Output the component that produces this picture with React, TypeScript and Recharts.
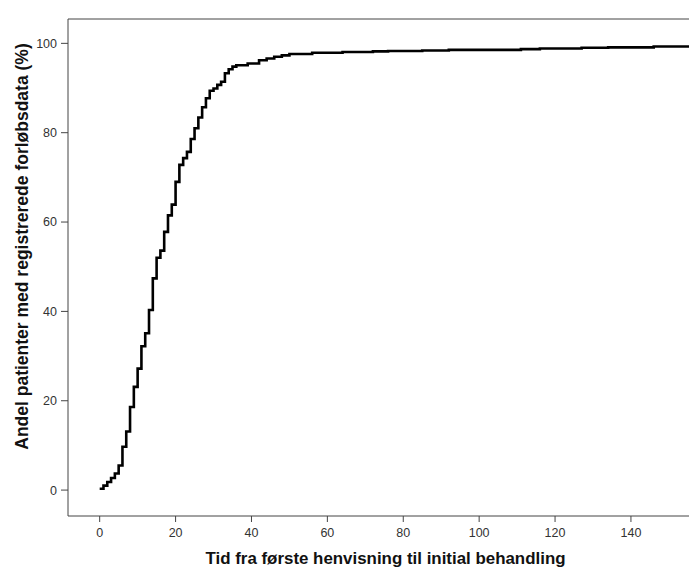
import { LineChart, Line, XAxis, YAxis, ReferenceLine } from 'recharts';

// days from first referral and cumulative share of patients (%)
const days = [
  0, 1, 2, 3, 4, 5, 6, 7, 8, 9, 10, 11, 12, 13, 14, 15, 16, 17, 18, 19,
  20, 21, 22, 23, 24, 25, 26, 27, 28, 29, 30, 31, 32, 33, 34, 35, 36, 39,
  42, 44, 46, 48, 50, 56, 64, 72, 76, 85, 92, 111, 116, 127, 134, 146, 160,
];
const share = [
  0.3, 1.0, 1.8, 2.7, 3.7, 5.5, 9.7, 13.1, 18.6, 23.1, 27.2, 32.2, 35.1, 40.3, 47.4, 52.0, 53.6, 57.8, 61.5, 63.9,
  69.0, 72.8, 74.3, 75.7, 78.6, 81.0, 83.4, 85.7, 87.7, 89.4, 89.9, 90.7, 91.4, 93.3, 94.2, 94.8, 95.1, 95.5,
  96.2, 96.6, 97.0, 97.3, 97.6, 97.9, 98.05, 98.2, 98.3, 98.4, 98.55, 98.7, 98.85, 99.0, 99.1, 99.3, 99.3,
];
const xTicks = [0, 20, 40, 60, 80, 100, 120, 140];
const yTicks = [0, 20, 40, 60, 80, 100];

const xTitle = 'Tid fra første henvisning til initial behandling';
const yTitle = 'Andel patienter med registrerede forløbsdata (%)';

const data = days.map((d, i) => ({ day: d, pct: share[i] }));

const font = '"Liberation Sans", Arial, sans-serif';
const tickStyle = { fontFamily: font, fontSize: 12.5, fill: '#333' };

function XTitle({ viewBox }: any) {
  const cx = viewBox.x + viewBox.width / 2 + 7;
  const y = viewBox.y + viewBox.height - 3;
  return (
    <text x={cx} y={y} textAnchor="middle" style={{ fontFamily: font, fontSize: 16.9, fontWeight: 700, fill: '#111' }}>
      {xTitle}
    </text>
  );
}

function YTitle({ viewBox }: any) {
  const cx = viewBox.x + 22;
  const cy = viewBox.y + viewBox.height / 2 - 21;
  return (
    <text
      x={cx}
      y={cy}
      textAnchor="middle"
      dominantBaseline="central"
      transform={`rotate(-90 ${cx} ${cy})`}
      style={{ fontFamily: font, fontSize: 17.5, fontWeight: 700, fill: '#111' }}
    >
      {yTitle}
    </text>
  );
}

export default function App() {
  return (
    <div style={{ position: 'absolute', left: 0, top: 0, width: 689, height: 567, background: '#fff' }}>
      <LineChart width={689} height={567} data={data} margin={{ top: 19, right: 0, bottom: 0, left: 0 }}>
        <XAxis
          dataKey="day"
          type="number"
          domain={[-8.35, 155.3]}
          allowDataOverflow
          ticks={xTicks}
          height={51}
          tickSize={6}
          tickMargin={6}
          tick={tickStyle}
          stroke="#444"
          label={<XTitle />}
        />
        <YAxis
          type="number"
          domain={[-5.8, 105.45]}
          allowDataOverflow
          ticks={yTicks}
          width={68}
          tickSize={7}
          tickMargin={4}
          tick={tickStyle}
          stroke="#444"
          label={<YTitle />}
        />
        <ReferenceLine y={105.45} stroke="#444" />
        <Line
          type="stepAfter"
          dataKey="pct"
          stroke="#000"
          strokeWidth={2.6}
          dot={false}
          activeDot={false}
          isAnimationActive={false}
        />
      </LineChart>
    </div>
  );
}
